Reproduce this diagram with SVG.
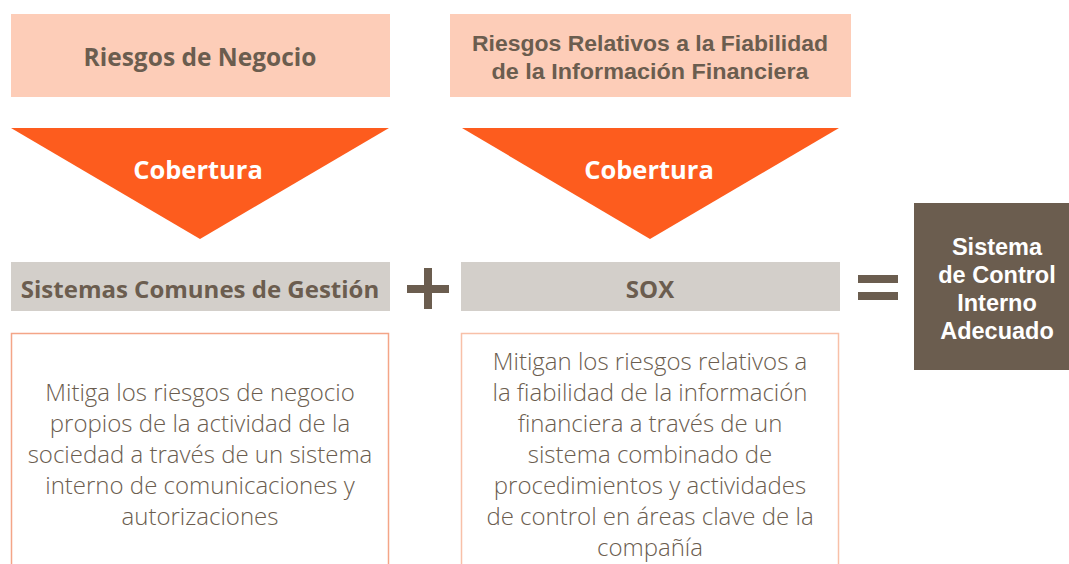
<svg xmlns="http://www.w3.org/2000/svg" width="1069" height="564" viewBox="0 0 1069 564">
<style>
.hdr{fill:#fdcdb8}
.tri{fill:#fd5c1e}
.gray{fill:#d3cfca}
.desc{fill:#fff;stroke-width:1.5}
.t{font-family:"Open Sans","Noto Sans",sans-serif;text-anchor:middle;fill:#6b5d4f}
.b{font-weight:bold}
.hd{font-size:22px;font-family:"Liberation Sans",Arial,sans-serif}
.cov{font-size:25.5px;fill:#fff;font-weight:bold}
.body{font-size:24px;font-weight:300}
.w{fill:#fff;font-size:23.5px;font-family:"Liberation Sans",Arial,sans-serif}
.sym{fill:#6b5d4f}
</style>
<rect width="1069" height="564" fill="#fff"/>
<g id="riesgos-negocio"><rect class="hdr" x="11" y="14" width="379" height="83"/><text class="t b" style="font-size:24.5px" x="200" y="66">Riesgos de Negocio</text></g>
<g id="riesgos-fiabilidad"><rect class="hdr" x="450" y="14" width="401" height="83"/><text class="t b hd" x="650" y="51" textLength="356" lengthAdjust="spacingAndGlyphs">Riesgos Relativos a la Fiabilidad</text><text class="t b hd" x="650" y="79" textLength="317" lengthAdjust="spacingAndGlyphs">de la Información Financiera</text></g>
<g id="cobertura-1"><polygon class="tri" points="11,128 389,128 200,239"/><text class="t cov" x="198" y="179">Cobertura</text></g>
<g id="cobertura-2"><polygon class="tri" points="462,128 839,128 650,239"/><text class="t cov" x="649" y="179">Cobertura</text></g>
<g id="sistemas-comunes"><rect class="gray" x="11" y="262" width="379" height="49"/><text class="t b" style="font-size:24px" x="200" y="298">Sistemas Comunes de Gestión</text></g>
<g id="sox"><rect class="gray" x="461" y="262" width="379" height="49"/><text class="t b" style="font-size:24px" x="650" y="298">SOX</text></g>
<g id="sistema-control"><rect fill="#6b5d4f" x="914" y="203" width="155" height="167"/><text class="t b w" x="997" y="255">Sistema</text><text class="t b w" x="997" y="283">de Control</text><text class="t b w" x="997" y="311">Interno</text><text class="t b w" x="997" y="339">Adecuado</text></g>
<g id="desc-1"><rect class="desc" stroke="#f4a587" x="11.5" y="333.5" width="377" height="240"/>
<text class="t body" x="200"><tspan x="200" y="401">Mitiga los riesgos de negocio</tspan><tspan x="200" y="432">propios de la actividad de la</tspan><tspan x="200" y="463">sociedad a través de un sistema</tspan><tspan x="200" y="494">interno de comunicaciones y</tspan><tspan x="200" y="525">autorizaciones</tspan></text></g>
<g id="desc-2"><rect class="desc" stroke="#f8c0a8" x="461.5" y="333.5" width="377" height="240"/>
<text class="t body" x="650"><tspan x="650" y="370">Mitigan los riesgos relativos a</tspan><tspan x="650" y="401">la fiabilidad de la información</tspan><tspan x="650" y="432">financiera a través de un</tspan><tspan x="650" y="463">sistema combinado de</tspan><tspan x="650" y="494">procedimientos y actividades</tspan><tspan x="650" y="525">de control en áreas clave de la</tspan><tspan x="650" y="556">compañía</tspan></text></g>
<g id="connectors">
<rect class="sym" x="407" y="285" width="42" height="8"/><rect class="sym" x="424" y="268" width="8" height="41"/>
<rect class="sym" x="858" y="275" width="40" height="8"/><rect class="sym" x="858" y="292" width="40" height="8"/>
</g>
</svg>
